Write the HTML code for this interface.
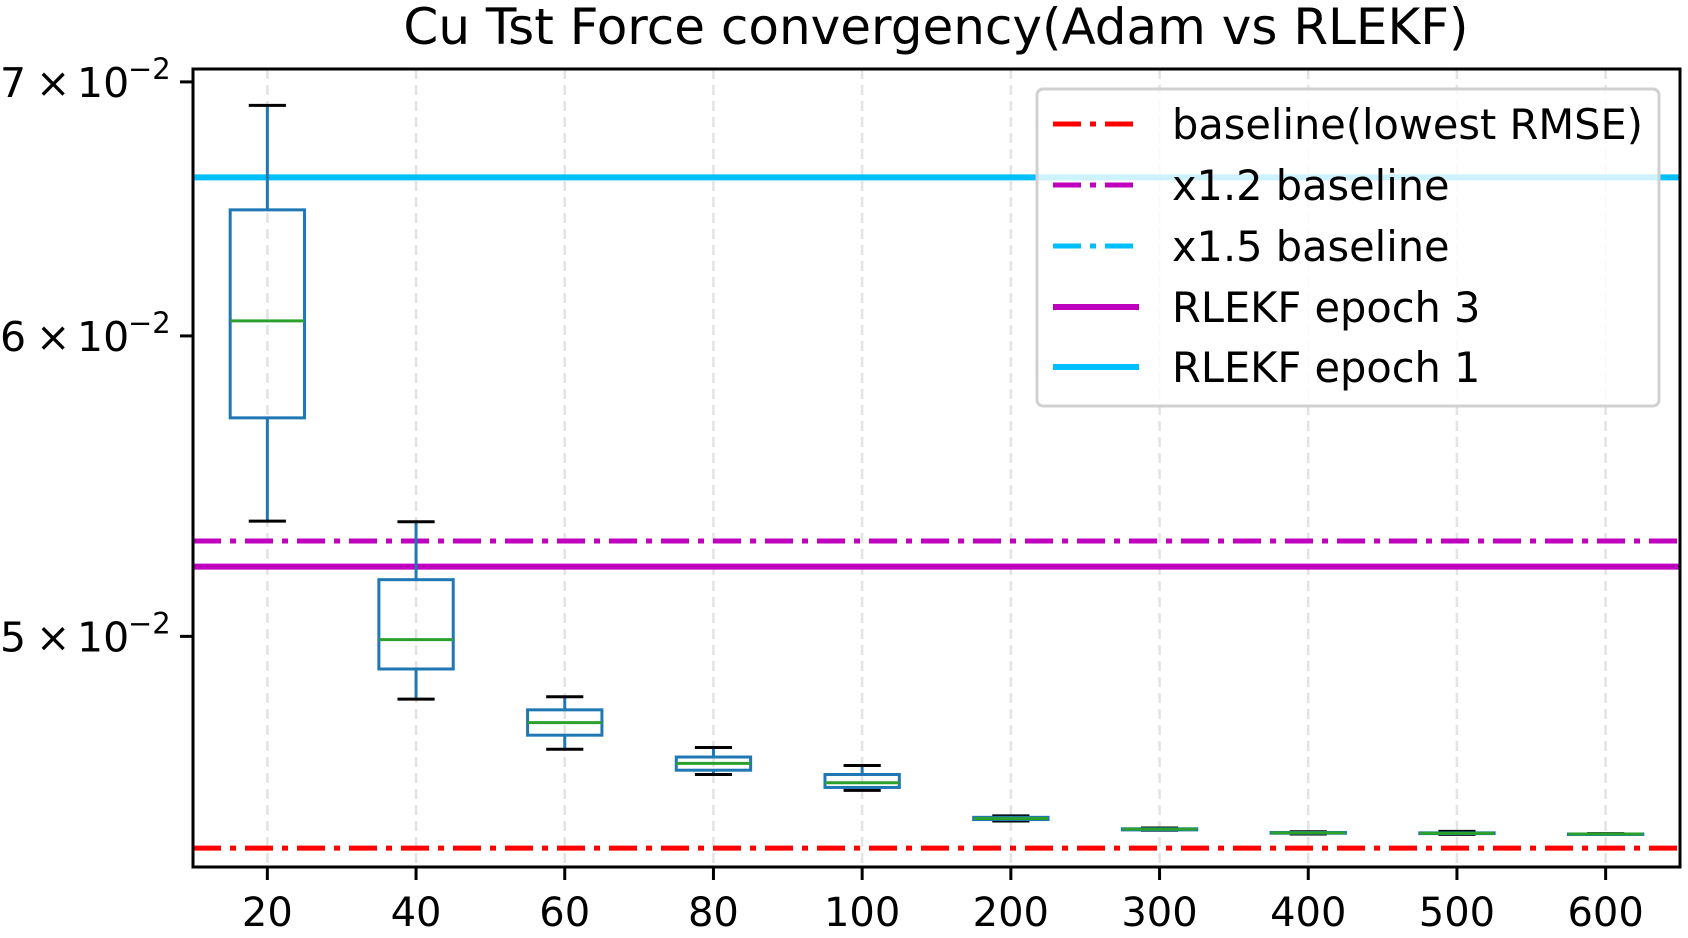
<!DOCTYPE html>
<html><head><meta charset="utf-8"><style>
body{margin:0;background:#fff}
svg{display:block;font-family:"DejaVu Sans","Liberation Sans",sans-serif}
</style></head><body>
<svg id="chart" width="1688" height="938" viewBox="0 0 1688 938" xmlns="http://www.w3.org/2000/svg">
<rect width="1688" height="938" fill="#fff"/>
<text x="936" y="44" font-size="50" text-anchor="middle">Cu Tst Force convergency(Adam vs RLEKF)</text>
<g id="grid"></g>
<g id="hlines"></g>
<g id="boxes"></g>
<rect x="193" y="69" width="1487" height="798" fill="none" stroke="#000" stroke-width="3"/>
<g id="xaxis"></g>
<g id="yaxis"></g>
<g id="legend"></g>
</svg>
<script>
const categories = ["20","40","60","80","100","200","300","400","500","600"];
const whiskerHigh = [0.06901,0.05360,0.04820,0.04674,0.04623,0.04484,0.04451,0.04441,0.04442,0.04436];
const q3Values    = [0.06477,0.05175,0.04782,0.04647,0.04598,0.04480,0.04449,0.04439,0.04438,0.04435];
const medians     = [0.06055,0.04990,0.04745,0.04629,0.04575,0.04477,0.04448,0.04438,0.04437,0.04435];
const q1Values    = [0.05709,0.04902,0.04709,0.04610,0.04562,0.04474,0.04446,0.04437,0.04436,0.04434];
const whiskerLow  = [0.05362,0.04813,0.04669,0.04598,0.04554,0.04470,0.04445,0.04435,0.04434,0.04434];
const refNames  = ["baseline(lowest RMSE)","x1.2 baseline","x1.5 baseline","RLEKF epoch 3","RLEKF epoch 1"];
const refValues = [0.04397,0.05298,0.06606,0.05216,0.06606];
const yTickValues = [0.07,0.06,0.05];
const yTickMant = ["7","6","5"];

const NS="http://www.w3.org/2000/svg";
const L=193,R=1680,T=69,B=867;
const yMin=0.04347,yMax=0.07055;
function y(v){return B-(Math.log10(v)-Math.log10(yMin))/(Math.log10(yMax)-Math.log10(yMin))*(B-T);}
const step=(R-L)/categories.length;
function x(i){return L+(i+0.5)*step;}
function mk(tag,attrs,parent){const e=document.createElementNS(NS,tag);for(const k in attrs)e.setAttribute(k,attrs[k]);parent.appendChild(e);return e;}
const grid=document.getElementById('grid'),hl=document.getElementById('hlines'),bx=document.getElementById('boxes'),xa=document.getElementById('xaxis'),ya=document.getElementById('yaxis'),lg=document.getElementById('legend');

categories.forEach((c,i)=>{
  const g=mk('line',{x1:x(i),x2:x(i),y1:T,y2:B,stroke:'#e3e3e3','stroke-width':2.5,'stroke-dasharray':'10,6'},grid);
  
  
  const t=mk('line',{x1:x(i),x2:x(i),y1:B,y2:B+13,stroke:'#000','stroke-width':3},xa);
  
  
  const lb=mk('text',{x:x(i),y:926,'font-size':40,'text-anchor':'middle'},xa);
  lb.textContent=c;
  
  
});
yTickValues.forEach((v,i)=>{
  const t=mk('line',{x1:L-13,x2:L,y1:y(v),y2:y(v),stroke:'#000','stroke-width':3},ya);
  
  
  const yy=y(v)+15;
  const lb=mk('text',{x:0,y:yy,'font-size':41},ya);
  lb.innerHTML='<tspan x="0">'+yTickMant[i]+'</tspan><tspan x="36">×</tspan><tspan x="77">10</tspan><tspan x="128" dy="-18" font-size="29">−2</tspan>';
  
  
});
const refStyles=[{c:'#ff0000',d:'28,9,6,9',w:5},{c:'#bf00bf',d:'28,9,6,9',w:5},{c:'#00bfff',d:'28,9,6,9',w:5},{c:'#bf00bf',d:'',w:6},{c:'#00bfff',d:'',w:6}];
refValues.forEach((v,i)=>{
  const s=refStyles[i];
  const ln=mk('line',{x1:L,x2:R,y1:y(v),y2:y(v),stroke:s.c,'stroke-width':s.w},hl);
  if(s.d)ln.setAttribute('stroke-dasharray',s.d);
  
  
});
const bw=step*0.5,cw=step*0.25;
categories.forEach((c,i)=>{
  const g=mk('g',{},bx);
  
  
  const cx=x(i);
  mk('line',{x1:cx,x2:cx,y1:y(whiskerHigh[i]),y2:y(q3Values[i]),stroke:'#1f77b4','stroke-width':3},g);
  mk('line',{x1:cx,x2:cx,y1:y(q1Values[i]),y2:y(whiskerLow[i]),stroke:'#1f77b4','stroke-width':3},g);
  mk('line',{x1:cx-cw/2,x2:cx+cw/2,y1:y(whiskerHigh[i]),y2:y(whiskerHigh[i]),stroke:'#000','stroke-width':3},g);
  mk('line',{x1:cx-cw/2,x2:cx+cw/2,y1:y(whiskerLow[i]),y2:y(whiskerLow[i]),stroke:'#000','stroke-width':3},g);
  mk('rect',{x:cx-bw/2,y:y(q3Values[i]),width:bw,height:Math.max(0.5,y(q1Values[i])-y(q3Values[i])),fill:'none',stroke:'#1f77b4','stroke-width':3},g);
  mk('line',{x1:cx-bw/2,x2:cx+bw/2,y1:y(medians[i]),y2:y(medians[i]),stroke:'#2ca02c','stroke-width':3},g);
});
mk('rect',{x:1037,y:89,width:622,height:317,rx:6,fill:'#fff','fill-opacity':0.8,stroke:'#d0d0d0','stroke-width':3},lg);
const ly=[124,185,246,307,367];
refNames.forEach((n,i)=>{
  const s=refStyles[i];
  const ln=mk('line',{x1:1053,x2:1139,y1:ly[i],y2:ly[i],stroke:s.c,'stroke-width':s.w},lg);
  if(s.d)ln.setAttribute('stroke-dasharray',s.d);
  
  
  const t=mk('text',{x:1172,y:ly[i]+15,'font-size':41.5},lg);
  t.textContent=n;
  
  
});
</script>
</body></html>
